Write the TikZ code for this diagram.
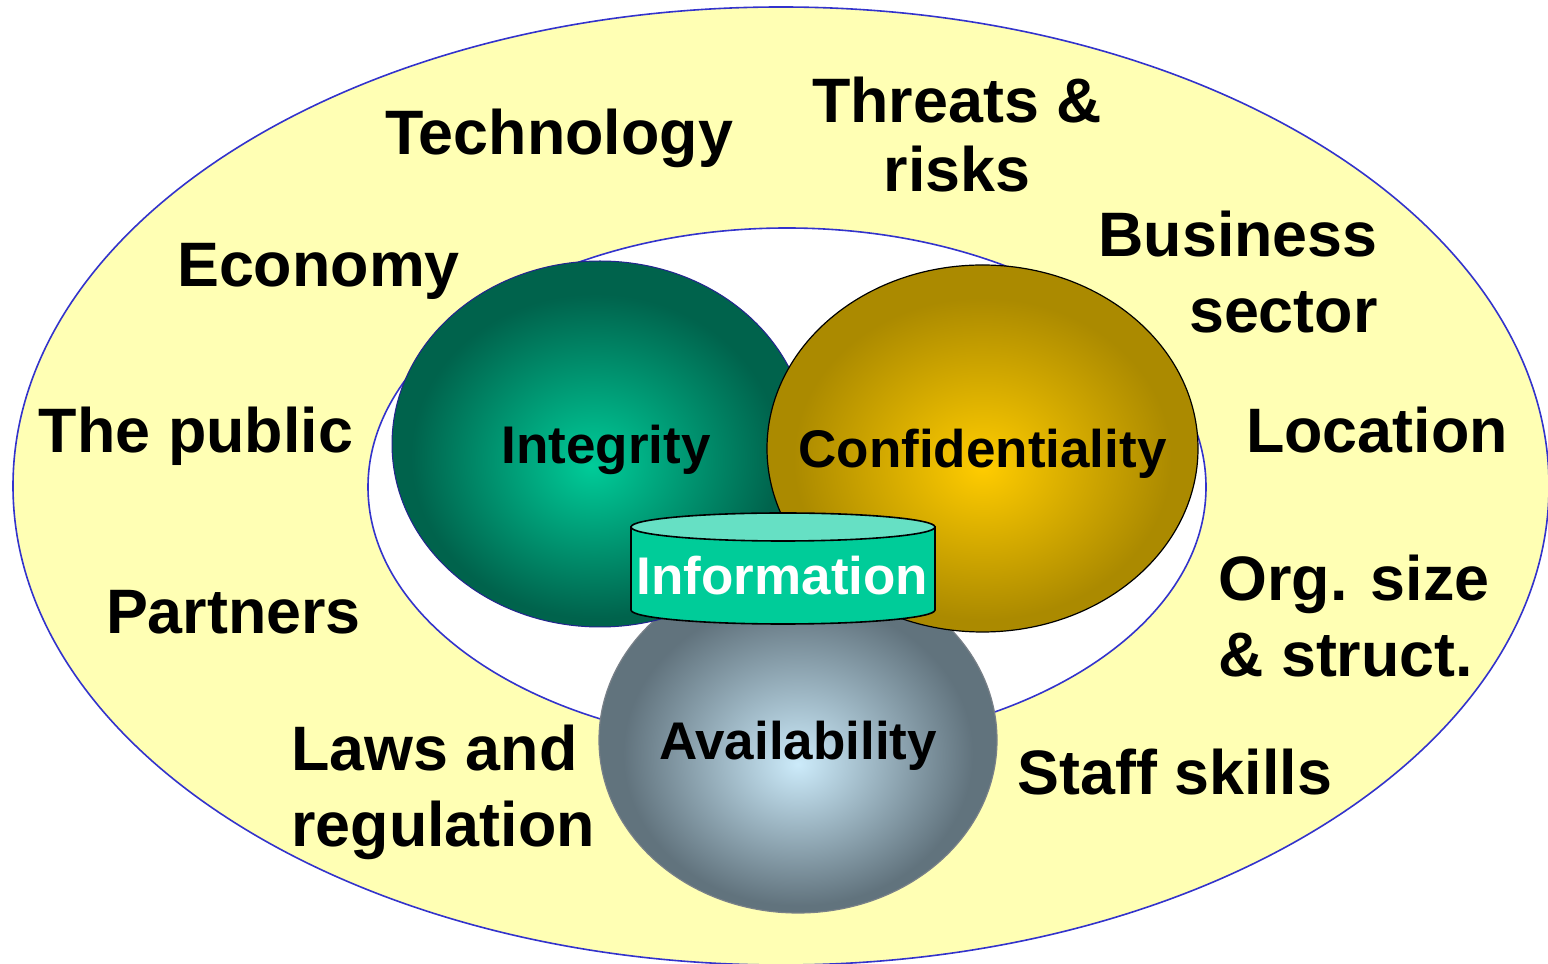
\documentclass[tikz,border=0pt]{standalone}
\usepackage{fontspec}
\setmainfont{Liberation Sans}
\usetikzlibrary{shapes.geometric}

\definecolor{ringblue}{RGB}{51,51,204}
\definecolor{paleyellow}{RGB}{255,255,180}
\definecolor{ballgrey}{RGB}{120,128,136}
\definecolor{cylbody}{RGB}{0,204,153}
\definecolor{cyltop}{RGB}{102,224,196}

\pgfdeclareradialshading{integshade}{\pgfpoint{-1bp}{-3bp}}{rgb(0bp)=(0,0.80,0.60); rgb(22bp)=(0,0.39,0.30); rgb(50bp)=(0,0.39,0.30)}
\pgfdeclareradialshading{confshade}{\pgfpoint{0bp}{-2.5bp}}{rgb(0bp)=(1,0.80,0); rgb(22bp)=(0.67,0.54,0); rgb(50bp)=(0.67,0.54,0)}
\pgfdeclareradialshading{availshade}{\pgfpoint{0bp}{-3.5bp}}{rgb(0bp)=(0.80,0.92,0.98); rgb(22bp)=(0.38,0.45,0.49); rgb(50bp)=(0.38,0.45,0.49)}

\tikzset{
  factor/.style={font=\bfseries\fontsize{31.4}{38}\selectfont, inner sep=0pt},
  ball/.style={ellipse, shade, inner sep=0pt},
  balltext/.style={inner sep=0pt, text depth=0pt, font=\bfseries\fontsize{26.5}{32}\selectfont},
}

\begin{document}
\begin{tikzpicture}[x=0.5pt, y=0.5pt]
\useasboundingbox (0,0) rectangle (1548,964);
% outer ring and inner field
\filldraw[fill=paleyellow, draw=ringblue, line width=0.8pt] (781,478) ellipse [x radius=384pt, y radius=239.5pt];
\filldraw[fill=white, draw=ringblue, line width=0.8pt] (787,477) ellipse [x radius=209.5pt, y radius=129.5pt];

% the three balls
\node[ball, shading=availshade, draw=ballgrey, line width=0.6pt, minimum width=199pt, minimum height=173pt,
  label={[balltext]center:Availability}] (avail) at (798,224) {};
\node[ball, shading=integshade, draw=ringblue!70!black, line width=0.5pt, minimum width=208pt, minimum height=183pt,
  label={[balltext, xshift=3pt]center:Integrity}] (integ) at (600,520) {};
\node[ball, shading=confshade, draw=black, line width=0.6pt, minimum width=215.5pt, minimum height=183.5pt,
  label={[balltext]center:Confidentiality}] (conf) at (982.5,515.5) {};

% information store
\filldraw[fill=cylbody, line width=0.8pt] (631,437) -- (631,354) arc [start angle=180, end angle=360, x radius=76pt, y radius=7pt] -- (935,437) -- cycle;
\filldraw[fill=cyltop, line width=0.8pt] (783,437) ellipse [x radius=76pt, y radius=7pt];
\node[anchor=base, inner sep=0pt, text=white, font=\bfseries\fontsize{26.5}{32}\selectfont] (info) at (782.5,369) {Information};

% surrounding factors
\node[factor, anchor=base] (tech) at (559,809) {Technology};
\node[factor, anchor=base, align=center, font=\bfseries\fontsize{31.4}{34.5}\selectfont] (threats) at (957,772) {Threats \&\\risks};
\node[factor, anchor=base] (econ) at (318.5,677) {Economy};
\node[factor, anchor=base east, align=right] (business) at (1378,631) {Business\\sector};
\node[factor, anchor=base] (public) at (196,511) {The public};
\node[factor, anchor=base] (location) at (1377,511) {Location};
\node[factor, anchor=base] (partners) at (233.5,330) {Partners};
\node[factor, anchor=base west, align=left] (orgsize) at (1218,287) {Org. size\\\& struct.};
\node[factor, anchor=base west, align=left] (laws) at (291,117) {Laws and\\regulation};
\node[factor, anchor=base] (staff) at (1175,169) {Staff skills};
\end{tikzpicture}
\end{document}
